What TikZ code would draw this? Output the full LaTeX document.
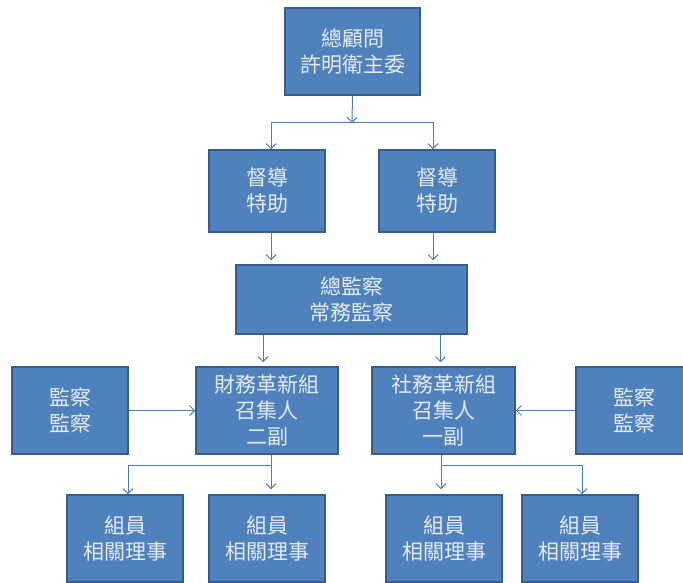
\documentclass[tikz,border=0pt]{standalone}
\usepackage{fontspec}
\newfontfamily\cjk{Noto Sans CJK TC}
\usetikzlibrary{arrows.meta,positioning}

\definecolor{boxfill}{HTML}{4F81BD}
\definecolor{boxline}{HTML}{385D8A}
\definecolor{linkcol}{HTML}{4A7EBB}
\definecolor{txtcol}{HTML}{E6ECF5}

\tikzset{
  orgbox/.style={draw=boxline,line width=1.5pt,fill=boxfill,text=txtcol,
    align=center,inner sep=0pt,minimum width=116pt,minimum height=87pt,
    font=\cjk\fontsize{21}{26}\selectfont},
  link/.style={draw=linkcol,line width=1pt,-{Straight Barb[length=5pt,width=10pt]}}
}

\begin{document}
\begin{tikzpicture}[x=1pt,y=-1pt]
    \useasboundingbox (0,0) rectangle (683,583);
    \clip (0,0) rectangle (683,583);
    % boxes
    \node [orgbox,minimum width=135pt] (adv) at (352.5,51.5) {總顧問\\許明衛主委};
    \node [orgbox,minimum height=82pt] (sup1) at (267,191) {督導\\特助};
    \node [orgbox,minimum height=82pt] (sup2) at (437,191) {督導\\特助};
    \node [orgbox,minimum width=231pt,minimum height=69pt] (chief) at (351.5,299.5) {總監察\\常務監察};
    \node [orgbox,minimum width=142pt] (fin) at (267,410.5) {財務革新組\\召集人\\二副};
    \node [orgbox,minimum width=143pt] (soc) at (443.5,410.5) {社務革新組\\召集人\\一副};
    \node [orgbox] (supL) at (70,410.5) {監察\\監察};
    \node [orgbox] (supR) at (634,410.5) {監察\\監察};
    \node [orgbox] (mem1) at (125,538.5) {組員\\相關理事};
    \node [orgbox] (mem2) at (267,538.5) {組員\\相關理事};
    \node [orgbox] (mem3) at (444,538.5) {組員\\相關理事};
    \node [orgbox] (mem4) at (580,538.5) {組員\\相關理事};
    % connectors
    \coordinate (tsplit) at (352,123);
    \draw [link] (adv.south) -- (tsplit);
    \draw [link] (tsplit) -| ([xshift=4pt]sup1.north);
    \draw [link] (tsplit) -| ([xshift=-4pt]sup2.north);
    \draw [link,shorten >=4pt] ([xshift=4pt]sup1.south) -- ([xshift=4pt]sup1.south |- chief.north);
    \draw [link,shorten >=4pt] ([xshift=-4pt]sup2.south) -- ([xshift=-4pt]sup2.south |- chief.north);
    \draw [link,shorten >=4pt] ([xshift=-4pt]fin.north |- chief.south) -- ([xshift=-4pt]fin.north);
    \draw [link,shorten >=4pt] ([xshift=-3pt]soc.north |- chief.south) -- ([xshift=-3pt]soc.north);
    \draw [link] (supL) -- (fin);
    \draw [link] (supR) -- (soc);
    \coordinate (fsplit) at (271,465);
    \draw [link] (fin.south -| fsplit) -- (fsplit) -| ([xshift=3pt]mem1.north);
    \draw [link,shorten >=5pt] (fsplit) -- (fsplit |- mem2.north);
    \coordinate (ssplit) at (441,465);
    \draw [link] (soc.south -| ssplit) -- (ssplit) -| ([xshift=2pt]mem4.north);
    \draw [link,shorten >=5pt] (ssplit) -- (ssplit |- mem3.north);
\end{tikzpicture}
\end{document}
